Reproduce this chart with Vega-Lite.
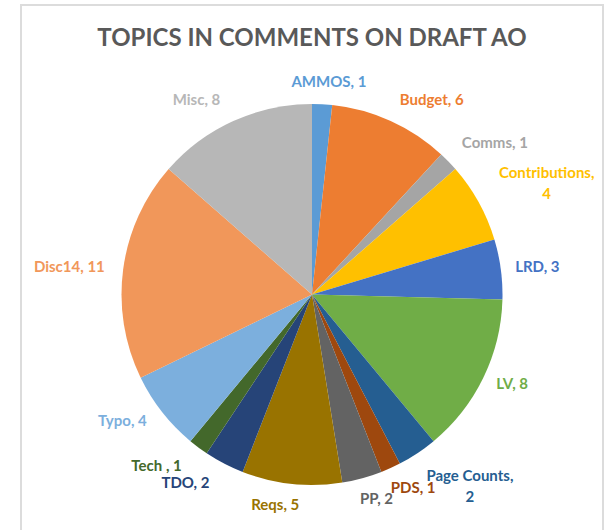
{
  "$schema": "https://vega.github.io/schema/vega-lite/v6.json",
  "width": 582,
  "height": 579,
  "autosize": {"type": "none"},
  "padding": {"left": 21, "top": 5, "right": 5, "bottom": 0},
  "background": "white",
  "view": {"stroke": "#dcdcdc", "strokeWidth": 2, "fill": "white"},
  "config": {"view": {"stroke": "#dcdcdc", "strokeWidth": 2}},
  "title": {
    "text": "TOPICS IN COMMENTS ON DRAFT AO",
    "font": "Lato",
    "fontSize": 24,
    "fontWeight": "bold",
    "color": "#595959",
    "anchor": "middle",
    "frame": "group",
    "baseline": "alphabetic",
    "offset": -65
  },
  "data": {
    "values": [
      {"idx": 1, "cat": "AMMOS", "n": 1, "label": "AMMOS, 1"},
      {"idx": 2, "cat": "Budget", "n": 6, "label": "Budget, 6"},
      {"idx": 3, "cat": "Comms", "n": 1, "label": "Comms, 1"},
      {"idx": 4, "cat": "Contributions", "n": 4, "label": ["Contributions,", "4"]},
      {"idx": 5, "cat": "LRD", "n": 3, "label": "LRD, 3"},
      {"idx": 6, "cat": "LV", "n": 8, "label": "LV, 8"},
      {"idx": 7, "cat": "Page Counts", "n": 2, "label": ["Page Counts,", "2"]},
      {"idx": 8, "cat": "PDS", "n": 1, "label": "PDS, 1"},
      {"idx": 9, "cat": "PP", "n": 2, "label": "PP, 2"},
      {"idx": 10, "cat": "Reqs", "n": 5, "label": "Reqs, 5"},
      {"idx": 11, "cat": "TDO", "n": 2, "label": "TDO, 2"},
      {"idx": 12, "cat": "Tech ", "n": 1, "label": "Tech , 1"},
      {"idx": 13, "cat": "Typo", "n": 4, "label": "Typo, 4"},
      {"idx": 14, "cat": "Disc14", "n": 11, "label": "Disc14, 11"},
      {"idx": 15, "cat": "Misc", "n": 8, "label": "Misc, 8"}
    ]
  },
  "transform": [
    {"stack": "n", "groupby": [], "sort": [{"field": "idx", "order": "ascending"}], "as": ["v0", "v1"]},
    {"calculate": "(datum.v0 + datum.v1) / 2", "as": "mid"}
  ],
  "encoding": {
    "color": {
      "field": "cat",
      "type": "nominal",
      "legend": null,
      "scale": {
        "domain": ["AMMOS", "Budget", "Comms", "Contributions", "LRD", "LV", "Page Counts", "PDS", "PP", "Reqs", "TDO", "Tech ", "Typo", "Disc14", "Misc"],
        "range": ["#5B9BD5", "#ED7D31", "#A5A5A5", "#FFC000", "#4472C4", "#70AD47", "#255E91", "#9E480E", "#636363", "#997300", "#264478", "#43682B", "#7CAFDD", "#F1975A", "#B7B7B7"]
      }
    }
  },
  "layer": [
    {
      "mark": {"type": "arc", "outerRadius": 190.5},
      "encoding": {
        "theta": {"field": "v0", "type": "quantitative", "scale": {"domain": [0, 59]}},
        "theta2": {"field": "v1"}
      }
    },
    {
      "transform": [{"filter": {"field": "cat", "oneOf": ["AMMOS"]}}],
      "mark": {"type": "text", "radius": 205, "dx": 6, "align": "center", "baseline": "bottom", "font": "Lato", "fontSize": 15, "fontWeight": "bold"},
      "encoding": {"theta": {"field": "mid", "type": "quantitative"}, "text": {"field": "label"}}
    },
    {
      "transform": [{"filter": {"field": "cat", "oneOf": ["Budget", "Comms"]}}],
      "mark": {"type": "text", "radius": 205, "dx": 3, "align": "left", "baseline": "bottom", "font": "Lato", "fontSize": 15, "fontWeight": "bold"},
      "encoding": {"theta": {"field": "mid", "type": "quantitative"}, "text": {"field": "label"}}
    },
    {
      "transform": [{"filter": {"field": "cat", "oneOf": ["LRD", "LV"]}}],
      "mark": {"type": "text", "radius": 205, "align": "left", "baseline": "middle", "font": "Lato", "fontSize": 15, "fontWeight": "bold"},
      "encoding": {"theta": {"field": "mid", "type": "quantitative"}, "text": {"field": "label"}}
    },
    {
      "transform": [{"filter": {"field": "cat", "oneOf": ["PDS", "PP"]}}],
      "mark": {"type": "text", "radius": 205, "dx": -6, "align": "left", "baseline": "top", "font": "Lato", "fontSize": 15, "fontWeight": "bold"},
      "encoding": {"theta": {"field": "mid", "type": "quantitative"}, "text": {"field": "label"}}
    },
    {
      "transform": [{"filter": {"field": "cat", "oneOf": ["Reqs"]}}],
      "mark": {"type": "text", "radius": 205, "dx": -15, "align": "center", "baseline": "top", "font": "Lato", "fontSize": 15, "fontWeight": "bold"},
      "encoding": {"theta": {"field": "mid", "type": "quantitative"}, "text": {"field": "label"}}
    },
    {
      "transform": [{"filter": {"field": "cat", "oneOf": ["TDO", "Tech "]}}],
      "mark": {"type": "text", "radius": 205, "dx": -8, "align": "right", "baseline": "top", "font": "Lato", "fontSize": 15, "fontWeight": "bold"},
      "encoding": {"theta": {"field": "mid", "type": "quantitative"}, "text": {"field": "label"}}
    },
    {
      "transform": [{"filter": {"field": "cat", "oneOf": ["Typo", "Disc14"]}}],
      "mark": {"type": "text", "radius": 205, "dx": -4, "align": "right", "baseline": "middle", "font": "Lato", "fontSize": 15, "fontWeight": "bold"},
      "encoding": {"theta": {"field": "mid", "type": "quantitative"}, "text": {"field": "label"}}
    },
    {
      "transform": [{"filter": {"field": "cat", "oneOf": ["Misc"]}}],
      "mark": {"type": "text", "radius": 205, "dx": -7, "align": "right", "baseline": "bottom", "font": "Lato", "fontSize": 15, "fontWeight": "bold"},
      "encoding": {"theta": {"field": "mid", "type": "quantitative"}, "text": {"field": "label"}}
    },
    {
      "transform": [{"filter": {"field": "cat", "oneOf": ["Contributions"]}}],
      "mark": {"type": "text", "radius": 250, "dx": 16, "align": "center", "baseline": "middle", "lineHeight": 21, "font": "Lato", "fontSize": 15, "fontWeight": "bold"},
      "encoding": {"theta": {"field": "mid", "type": "quantitative"}, "text": {"field": "label"}}
    },
    {
      "transform": [{"filter": {"field": "cat", "oneOf": ["Page Counts"]}}],
      "mark": {"type": "text", "radius": 235, "dx": 28, "dy": -14, "align": "center", "baseline": "middle", "lineHeight": 21, "font": "Lato", "fontSize": 15, "fontWeight": "bold"},
      "encoding": {"theta": {"field": "mid", "type": "quantitative"}, "text": {"field": "label"}}
    }
  ]
}
